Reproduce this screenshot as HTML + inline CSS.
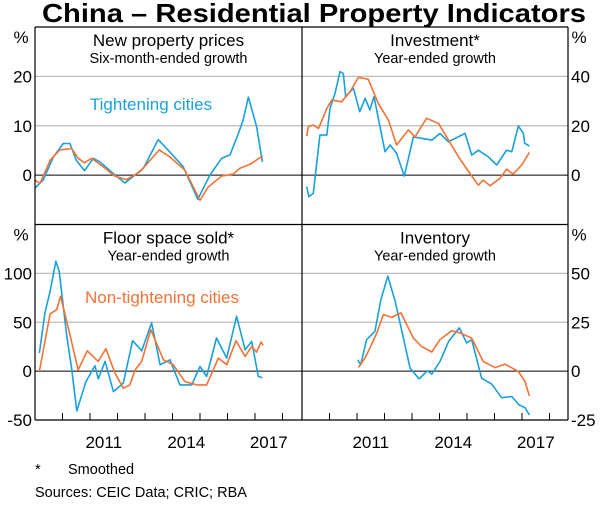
<!DOCTYPE html>
<html><head><meta charset="utf-8"><style>
body{margin:0;background:#fff;width:600px;height:504px;overflow:hidden;font-family:"Liberation Sans",Arial,sans-serif}
svg text{font-family:"Liberation Sans",Arial,sans-serif}
</style></head><body>
<svg id="chart" width="600" height="504" viewBox="0 0 600 504" xmlns="http://www.w3.org/2000/svg"></svg>
<script>
// ---- data ----
const xTickYears = [2010,2011,2012,2013,2014,2015,2016,2017,2018];
const xLabelYears = [2011,2014,2017];
const ppTightDates = [2009.0,2009.3,2009.67,2010.03,2010.27,2010.5,2010.8,2011.12,2011.36,2011.85,2012.27,2012.94,2013.48,2013.9,2014.39,2014.92,2015.36,2015.79,2016.09,2016.4,2016.57,2016.76,2017.06,2017.27];
const ppTightValues = [-2.6,-1,3.7,6.4,6.4,3,0.9,3.4,2.7,0.3,-1.6,1.4,7.2,4.7,1.7,-4.9,0,3.4,4.1,8.5,11.2,15.8,9.8,2.7];
const ppNonDates = [2009.0,2009.18,2009.55,2009.9,2010.33,2010.57,2010.8,2011.06,2011.48,2011.9,2012.33,2012.82,2013.52,2013.9,2014.45,2015.0,2015.3,2015.79,2016.21,2016.45,2016.82,2017.28];
const ppNonValues = [-1,-1.7,3,5.1,5.4,3.4,2.5,3.4,1.7,-0.2,-0.9,0.7,5.1,3.7,1,-5.1,-2.4,-0.2,0.2,1.4,2.2,3.9];
const invTightDates = [2009.17,2009.25,2009.41,2009.65,2009.9,2010.02,2010.2,2010.38,2010.5,2010.59,2010.87,2011.1,2011.3,2011.47,2011.62,2012.02,2012.2,2012.44,2012.72,2013.05,2013.72,2014.02,2014.32,2014.93,2015.17,2015.41,2015.78,2016.08,2016.44,2016.63,2016.87,2017.05,2017.1,2017.27];
const invTightValues = [-4.7,-8.8,-7.4,16.2,16.2,27,33.1,41.9,41.2,31.8,35.2,25.7,31.1,26.4,31.8,9.5,12.2,8.8,-0.4,15.5,14.2,16.9,13.5,16.9,8.1,10.1,7.4,4.1,10.1,9.5,19.9,16.9,12.9,11.8];
const invNonDates = [2009.17,2009.23,2009.41,2009.6,2009.9,2010.08,2010.44,2010.75,2011.05,2011.41,2011.77,2012.14,2012.44,2012.87,2013.11,2013.53,2013.96,2014.26,2014.69,2014.98,2015.41,2015.59,2015.84,2016.2,2016.44,2016.68,2016.99,2017.27];
const invNonValues = [15.8,19.6,20.3,18.9,27,30.4,29.7,33.8,39.6,38.8,29.1,22.3,12.2,18.3,15.5,23,21,15.5,7.4,2.7,-4.1,-2,-4.3,-1.3,2.4,0.4,4.1,9.2];
const fsTightDates = [2009.16,2009.36,2009.55,2009.76,2009.88,2010.15,2010.33,2010.52,2010.85,2011.18,2011.3,2011.55,2011.85,2012.21,2012.55,2012.88,2013.24,2013.55,2013.91,2014.27,2014.7,2015.0,2015.24,2015.6,2015.97,2016.33,2016.64,2016.88,2017.12,2017.27];
const fsTightValues = [18.5,59.5,81.7,112.5,102,37.3,3,-40.8,-10.7,5.4,-7.9,9.9,-20.9,-12.3,31.1,20.8,49.3,6.5,11.6,-14.1,-14.1,4.7,-5.5,33.9,13.3,56.1,21.9,30.4,-5.5,-6.6];
const fsNonDates = [2009.16,2009.55,2009.79,2009.93,2010.21,2010.57,2010.9,2011.3,2011.58,2011.91,2012.21,2012.45,2012.64,2012.88,2013.21,2013.67,2014.03,2014.45,2014.88,2015.24,2015.67,2015.97,2016.31,2016.64,2016.88,2017.06,2017.22,2017.3];
const fsNonValues = [0,58.5,62.9,76.6,44.1,1.3,20.8,9.9,22.9,-2.1,-17.5,-14.1,1.3,9.9,42.4,11.6,6.5,-10.7,-14.1,-14.1,13.3,6.5,31.1,15,25.3,19.5,29.8,26.3];
const stTightDates = [2011.03,2011.13,2011.35,2011.65,2011.87,2012.12,2012.39,2012.93,2013.26,2013.56,2013.72,2014.02,2014.33,2014.72,2014.99,2015.17,2015.53,2015.9,2016.26,2016.63,2016.89,2017.11,2017.27];
const stTightValues = [5.8,3.2,16.1,20.3,36.6,48.6,35.7,1.5,-4,0.2,-1.5,4.9,15.2,22.1,14.4,16.1,-3.6,-6.7,-13.6,-13,-17.3,-18.7,-22.4];
const stNonDates = [2011.05,2011.29,2011.47,2011.72,2011.96,2012.26,2012.6,2013.05,2013.35,2013.72,2014.02,2014.44,2014.75,2015.17,2015.59,2016.02,2016.38,2016.87,2017.11,2017.27];
const stNonValues = [1.8,6.7,11.8,19.5,28.9,27.5,29.8,16.9,12.6,9.8,16.1,20.7,19.5,16.9,4.9,1.8,3.6,-0.2,-5.3,-12.7];
const tlTicks = [-10,0,10,20,30], tlLabels=["","0","10","20",""];
const trTicks = [-20,0,20,40,60], trLabels=["","0","20","40",""];
const blTicks = [-50,0,50,100,150], blLabels=["-50","0","50","100",""];
const brTicks = [-25,0,25,50,75], brLabels=["-25","0","25","50",""];

const NS="http://www.w3.org/2000/svg";
const svg=document.getElementById('chart');
const BLUE="#1aa0dc", ORANGE="#f37235";
function mk(tag,attrs,parent){const e=document.createElementNS(NS,tag);for(const k in attrs)e.setAttribute(k,attrs[k]);(parent||svg).appendChild(e);return e;}
function txt(s,x,y,size,anchor,fill,weight){const t=mk('text',{x:x,y:y,'font-size':size,'text-anchor':anchor,fill:fill||'#000','font-weight':weight||'normal'});t.textContent=s;return t;}

const L=35,M=302,R=568,T=27,MID=224.5,B=420;
const YW=27.5;
function xs(x0){return d=>x0+(d-2009)*YW;}
function ys(top,bot,min,max){return v=>bot-(v-min)/(max-min)*(bot-top);}

function panel(name,x0,x1,y0,y1,ticks,labels,side,series,title,sub){
  const g=mk('g',{});
  
  
  const X=xs(x0), Y=ys(y0,y1,ticks[0],ticks[ticks.length-1]);
  ticks.forEach((t,i)=>{
    const y=Y(t);
    if(t!==0 && i>0 && i<ticks.length-1){const gl=mk('line',{x1:x0,x2:x1,y1:y,y2:y,stroke:'#bdbdbd','stroke-width':1.2},g);}
    if(labels[i]){const tx=txt(labels[i],side==='l'?32:571,y+6,17,side==='l'?'end':'start');g.appendChild(tx);}
  });
  const z=mk('line',{x1:x0,x2:x1,y1:Y(0),y2:Y(0),stroke:'#000','stroke-width':1},g);
  
  const pc=txt('%',side==='l'?21:579,y0+16,17,'middle');g.appendChild(pc);
  
  const tt=txt(title,(x0+x1)/2,y0+19,17,'middle');g.appendChild(tt);
  
  const st=txt(sub,(x0+x1)/2,y0+36,14.5,'middle');g.appendChild(st);
  
  series.forEach(s=>{
    const d=s.dates.map((dt,i)=>(i?'L':'M')+X(dt).toFixed(1)+','+Y(s.vals[i]).toFixed(1)).join(' ');
    const p=mk('path',{d:d,fill:'none',stroke:s.color,'stroke-width':1.6,'stroke-linejoin':'round'},g);
    
  });
  return X;
}
const ttl=txt('China – Residential Property Indicators',314,22,26,'middle','#000','bold');
ttl.setAttribute('textLength','544');
ttl.setAttribute('lengthAdjust','spacingAndGlyphs');



panel('new-property-prices-panel',L,M,T,MID,tlTicks,tlLabels,'l',[
 {dates:ppTightDates,vals:ppTightValues,color:BLUE,name:'prices-tightening-line'},
 {dates:ppNonDates,vals:ppNonValues,color:ORANGE,name:'prices-non-tightening-line'}],'New property prices','Six-month-ended growth');
panel('investment-panel',M,R,T,MID,trTicks,trLabels,'r',[
 {dates:invTightDates,vals:invTightValues,color:BLUE,name:'investment-tightening-line'},
 {dates:invNonDates,vals:invNonValues,color:ORANGE,name:'investment-non-tightening-line'}],'Investment*','Year-ended growth');
const XL=panel('floor-space-panel',L,M,MID,B,blTicks,blLabels,'l',[
 {dates:fsTightDates,vals:fsTightValues,color:BLUE,name:'floor-space-tightening-line'},
 {dates:fsNonDates,vals:fsNonValues,color:ORANGE,name:'floor-space-non-tightening-line'}],'Floor space sold*','Year-ended growth');
const XR=panel('inventory-panel',M,R,MID,B,brTicks,brLabels,'r',[
 {dates:stTightDates,vals:stTightValues,color:BLUE,name:'inventory-tightening-line'},
 {dates:stNonDates,vals:stNonValues,color:ORANGE,name:'inventory-non-tightening-line'}],'Inventory','Year-ended growth');

// frame
[[L,T,R,T],[L,B,R,B],[L,T,L,B],[R,T,R,B],[M,T,M,B],[L,MID,R,MID]].forEach(a=>{
  const ln=mk('line',{x1:a[0],y1:a[1],x2:a[2],y2:a[3],stroke:'#000','stroke-width':1.2});
  
});
// x ticks & labels
[XL,XR].forEach(X=>{
  xTickYears.forEach(yr=>{const x=X(yr);if(x>=X(2009)+1&&x<X(2009)+265){
    const tk=mk('line',{x1:x,x2:x,y1:B,y2:B-7,stroke:'#000','stroke-width':1});
    }});
  xLabelYears.forEach(yr=>{const t=txt(String(yr),X(yr+0.5),448,17,'middle');
    });
});
const a1=txt('Tightening cities',151,110,17,'middle',BLUE);

const a2=txt('Non-tightening cities',162,303,17,'middle',ORANGE);

const f1=txt('*',35,474,14.5,'start');

const f2=txt('Smoothed',68,474,14.5,'start');

const f3=txt('Sources: CEIC Data; CRIC; RBA',35,497,14.5,'start');

</script>
</body></html>
